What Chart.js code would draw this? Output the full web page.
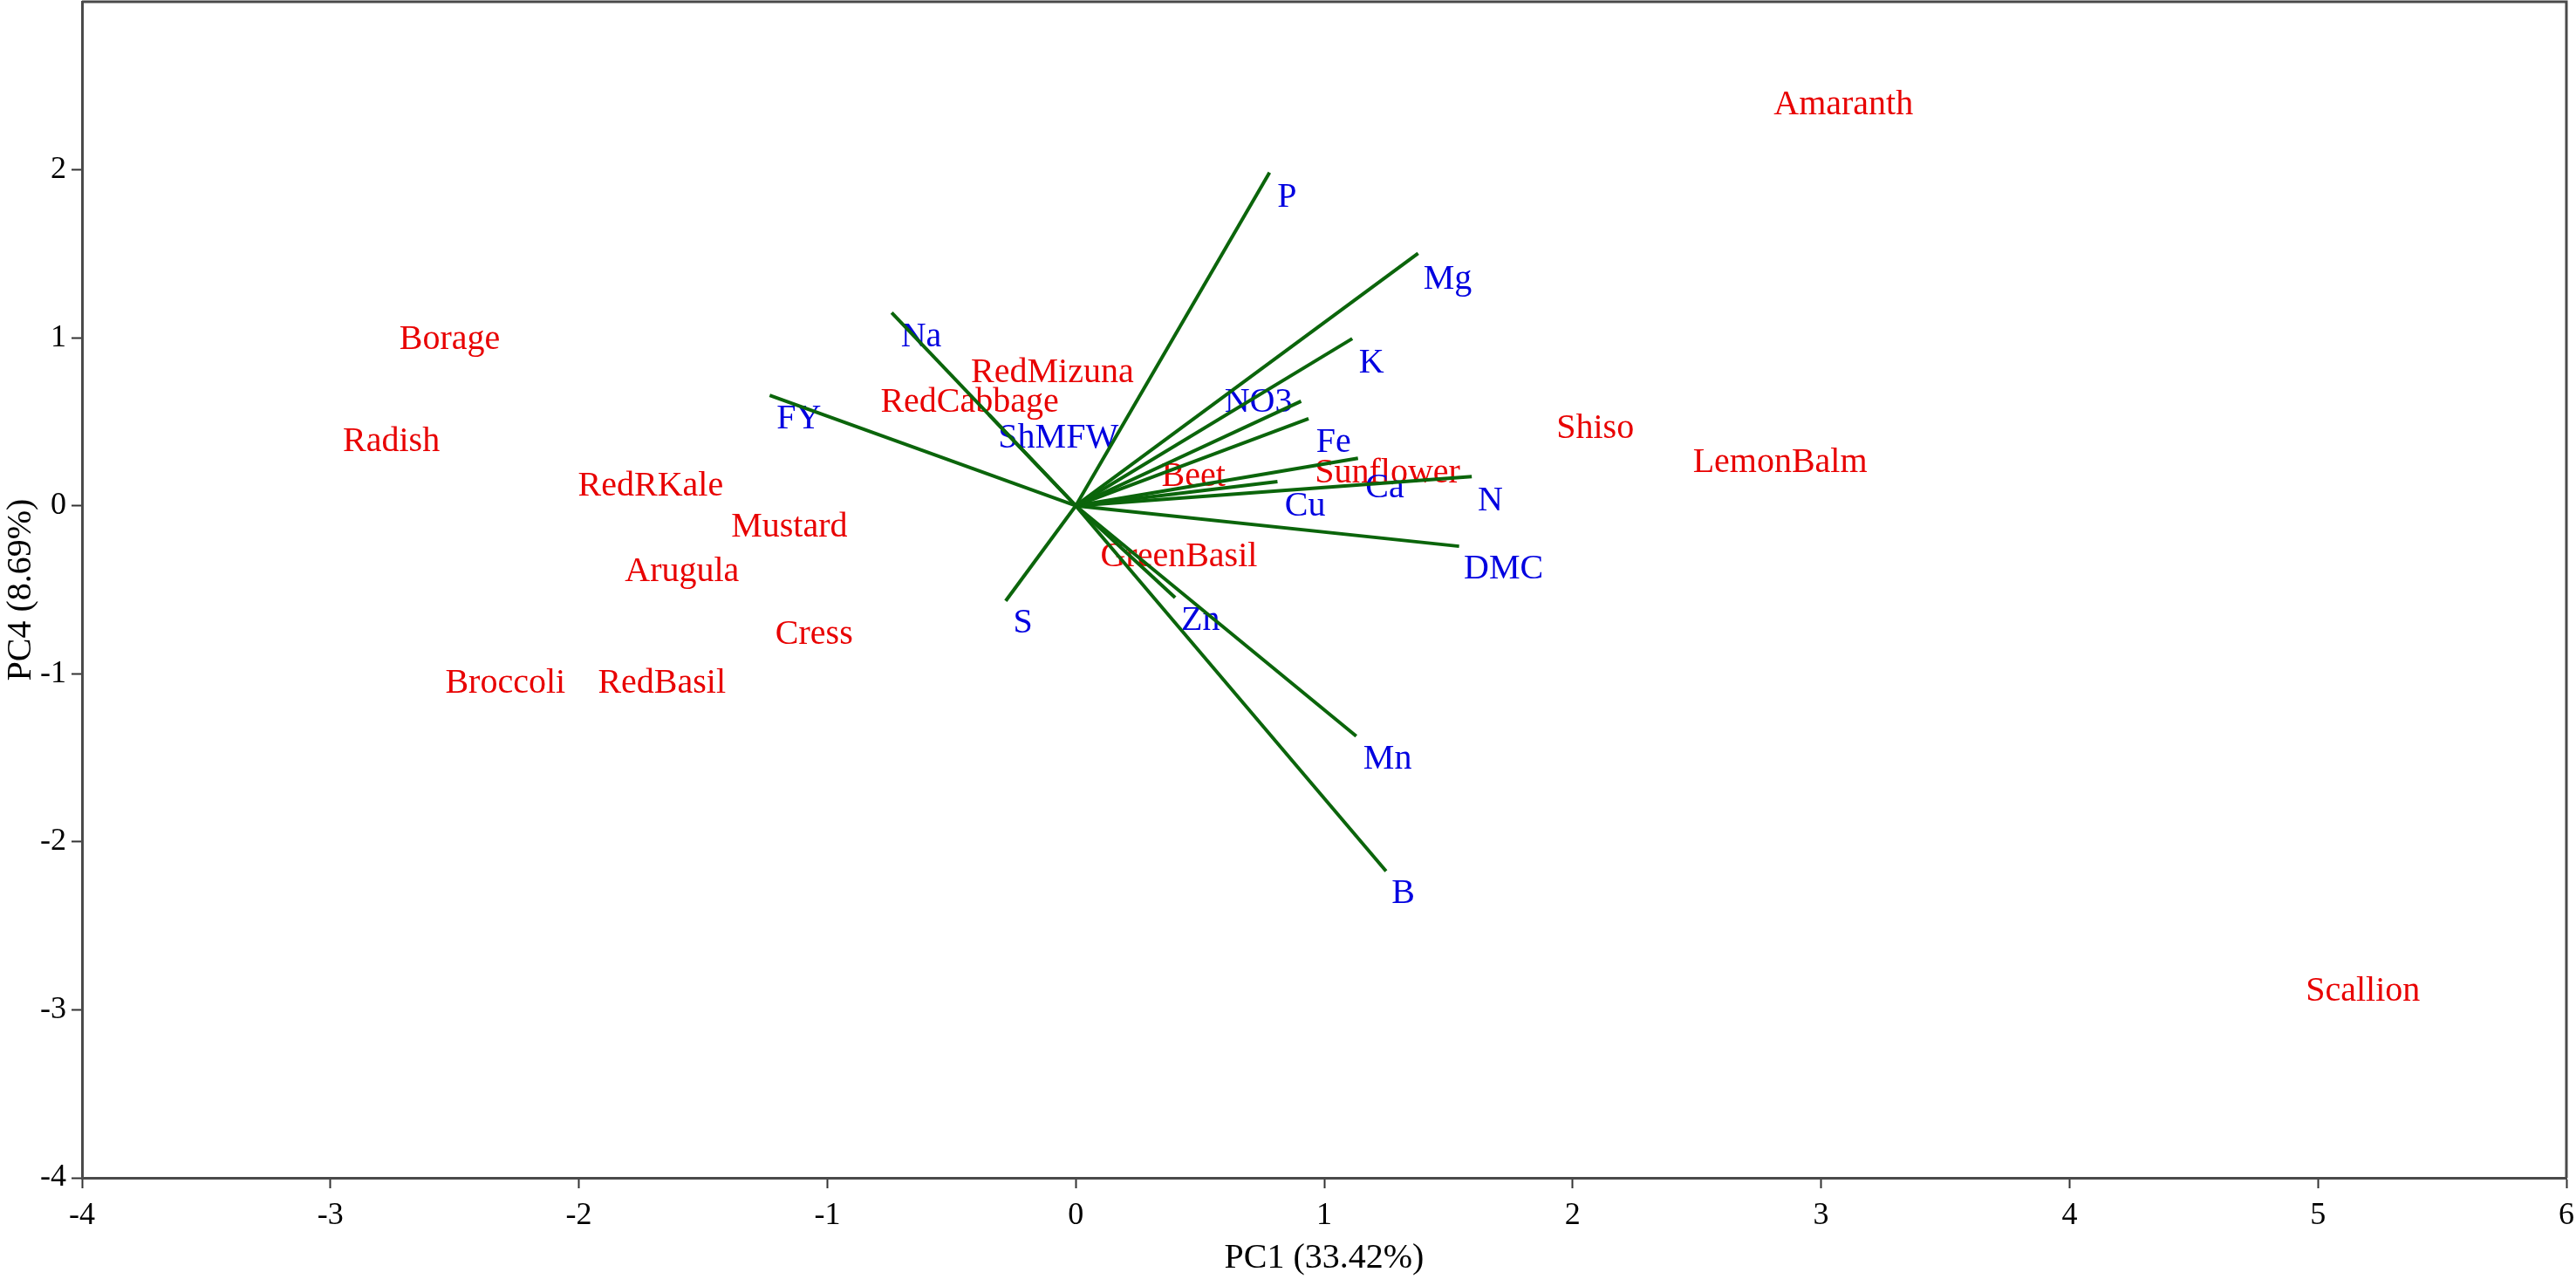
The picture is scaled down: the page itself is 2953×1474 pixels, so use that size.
<!DOCTYPE html>
<html><head><meta charset="utf-8">
<script src="https://cdn.jsdelivr.net/npm/chart.js@4.4.1/dist/chart.umd.min.js"></script>
<style>html,body{margin:0;padding:0;background:#fff;}</style>
</head><body>
<canvas id="c" width="2953" height="1474"></canvas>
<script>
// ---- data ----
const sampleNames = ['Amaranth','Borage','Radish','RedRKale','Mustard','Arugula','Cress','Broccoli','RedBasil','RedMizuna','RedCabbage','Beet','Sunflower','GreenBasil','Shiso','LemonBalm','Scallion'];
const samplePC1   = [3.09, -2.52, -2.755, -1.711, -1.153, -1.585, -1.053, -2.296, -1.666, -0.094, -0.427, 0.474, 1.255, 0.415, 2.091, 2.835, 5.181];
const samplePC4   = [2.387, 0.989, 0.378, 0.115, -0.131, -0.395, -0.769, -1.06, -1.06, 0.79, 0.612, 0.174, 0.194, -0.303, 0.458, 0.254, -2.889];

const variableNames = ['P','Mg','Na','K','NO3','FY','ShMFW','Fe','Ca','N','Cu','DMC','S','Zn','Mn','B'];
const loadingPC1    = [0.78, 1.378, -0.741, 1.113, 0.907, -1.232, -0.35, 0.937, 1.136, 1.594, 0.812, 1.543, -0.282, 0.40, 1.129, 1.249];
const loadingPC4    = [1.983, 1.502, 1.150, 0.995, 0.622, 0.657, 0.543, 0.518, 0.283, 0.174, 0.144, -0.241, -0.566, -0.547, -1.371, -2.175];
const variableLabelPC1 = [0.85, 1.497, -0.622, 1.19, 0.735, -1.114, -0.07, 1.038, 1.244, 1.669, 0.923, 1.722, -0.213, 0.502, 1.255, 1.318];
const variableLabelPC4 = [1.834, 1.347, 1.003, 0.85, 0.612, 0.513, 0.403, 0.373, 0.105, 0.025, -0.005, -0.376, -0.70, -0.684, -1.511, -2.31];

const xTicks = [-4,-3,-2,-1,0,1,2,3,4,5,6];
const yTicks = [-4,-3,-2,-1,0,1,2];
const xRange = [-4, 6];
const yRange = [-4, 3];
const xTitle = 'PC1 (33.42%)';
const yTitle = 'PC4 (8.69%)';

// ---- styles ----
const FONT = "'Liberation Serif', 'Times New Roman', serif";
const SAMPLE_COLOR = '#e80000';
const VAR_COLOR = '#0000e0';
const ARROW_COLOR = '#0b650b';
const AXIS_COLOR = '#4a4a4a';

const arrowDatasets = variableNames.map((n, i) => ({
  label: n,
  data: [{x: 0, y: 0}, {x: loadingPC1[i], y: loadingPC4[i]}],
  showLine: true,
  borderColor: ARROW_COLOR,
  borderWidth: 4,
  pointRadius: 0,
  pointHoverRadius: 0,
  fill: false
}));

const labelPlugin = {
  id: 'biplotLabels',
  beforeDatasetsDraw(chart) {
    const {ctx, scales: {x, y}} = chart;
    ctx.save();
    ctx.font = '40px ' + FONT;
    ctx.textAlign = 'center';
    ctx.textBaseline = 'middle';
    ctx.fillStyle = SAMPLE_COLOR;
    sampleNames.forEach((n, i) => {
      ctx.fillText(n, x.getPixelForValue(samplePC1[i]), y.getPixelForValue(samplePC4[i]));
    });
    ctx.fillStyle = VAR_COLOR;
    variableNames.forEach((n, i) => {
      ctx.fillText(n, x.getPixelForValue(variableLabelPC1[i]), y.getPixelForValue(variableLabelPC4[i]));
    });
    ctx.restore();
  },
  afterDraw(chart) {
    const {ctx, chartArea: a} = chart;
    ctx.save();
    ctx.strokeStyle = AXIS_COLOR;
    ctx.lineWidth = 3;
    ctx.beginPath();
    ctx.moveTo(a.left, a.top);
    ctx.lineTo(a.right, a.top);
    ctx.lineTo(a.right, a.bottom);
    ctx.stroke();
    ctx.restore();
  }
};

new Chart(document.getElementById('c'), {
  type: 'scatter',
  data: { datasets: arrowDatasets },
  options: {
    responsive: false,
    devicePixelRatio: 1,
    animation: false,
    layout: { padding: { left: 0, top: 2, right: 11, bottom: 0 } },
    plugins: { legend: { display: false }, tooltip: { enabled: false } },
    scales: {
      x: {
        type: 'linear', min: xRange[0], max: xRange[1],
        afterBuildTicks: s => { s.ticks = xTicks.map(v => ({value: v})); },
        afterFit: s => { s.height = 124; s.paddingLeft = 0; s.paddingRight = 0; },
        ticks: { font: { family: FONT, size: 36 }, color: '#000', padding: 10, maxRotation: 0 },
        grid: { display: true, drawOnChartArea: false, drawTicks: true, tickLength: 12, tickColor: '#333', tickWidth: 2 },
        border: { display: true, color: AXIS_COLOR, width: 3 },
        title: { display: true, text: xTitle, font: { family: FONT, size: 40 }, color: '#000', padding: { top: 0, bottom: 8 } }
      },
      y: {
        type: 'linear', min: yRange[0], max: yRange[1],
        afterBuildTicks: s => { s.ticks = yTicks.map(v => ({value: v})); },
        afterFit: s => { s.width = 94; s.paddingTop = 0; s.paddingBottom = 0; },
        ticks: { font: { family: FONT, size: 36 }, color: '#000', padding: 6 },
        grid: { display: true, drawOnChartArea: false, drawTicks: true, tickLength: 12, tickColor: '#333', tickWidth: 2 },
        border: { display: true, color: AXIS_COLOR, width: 3 },
        title: { display: true, text: yTitle, font: { family: FONT, size: 40 }, color: '#000', padding: { top: 0, bottom: 0 } }
      }
    }
  },
  plugins: [labelPlugin]
});
</script>
</body></html>
